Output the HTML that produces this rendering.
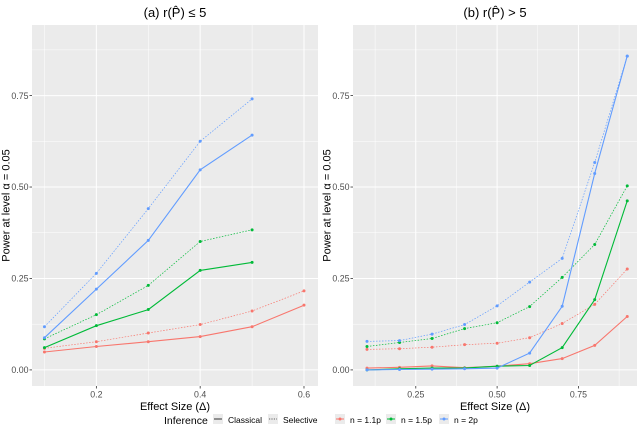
<!DOCTYPE html>
<html><head><meta charset="utf-8"><style>
body{margin:0;background:#fff;font-family:"Liberation Sans",sans-serif}
svg text{font-family:"Liberation Sans","DejaVu Sans",sans-serif}
</style></head><body>
<svg id="c" width="640" height="425"></svg>
<script>
const xsLeft=[0.1,0.2,0.3,0.4,0.5,0.6];
const xsRight=[0.1,0.2,0.3,0.4,0.5,0.6,0.7,0.8,0.9];
const leftBlueSel=[0.118,0.264,0.441,0.625,0.741];
const leftBlueCl=[0.088,0.221,0.354,0.547,0.642];
const leftGreenSel=[0.085,0.151,0.231,0.351,0.383];
const leftGreenCl=[0.061,0.121,0.165,0.272,0.294];
const leftRedSel=[0.059,0.077,0.101,0.124,0.161,0.216];
const leftRedCl=[0.049,0.064,0.077,0.091,0.118,0.177];
const rightBlueSel=[0.078,0.080,0.098,0.124,0.175,0.240,0.305,0.567,0.858];
const rightBlueCl=[0.0,0.001,0.002,0.003,0.005,0.046,0.174,0.537,0.858];
const rightGreenSel=[0.064,0.075,0.086,0.113,0.129,0.173,0.253,0.343,0.503];
const rightGreenCl=[0.0,0.003,0.005,0.005,0.010,0.012,0.061,0.192,0.462];
const rightRedSel=[0.056,0.058,0.062,0.069,0.073,0.088,0.127,0.179,0.276];
const rightRedCl=[0.005,0.007,0.011,0.006,0.010,0.017,0.031,0.067,0.146];
const yTicks=[0,0.25,0.5,0.75];
const yTickLabels=["0.00","0.25","0.50","0.75"];
const leftXTicks=[0.2,0.4,0.6];
const leftXTickLabels=["0.2","0.4","0.6"];
const rightXTicks=[0.25,0.5,0.75];
const rightXTickLabels=["0.25","0.50","0.75"];

const NS="http://www.w3.org/2000/svg";
const svg=document.getElementById('c');
function mk(t,a,p){const e=document.createElementNS(NS,t);for(const k in a)e.setAttribute(k,a[k]);(p||svg).appendChild(e);return e;}
const RED="#F8766D",GREEN="#00BA38",BLUE="#619CFF";

function panel(o){
  const g=mk('g',{});
  
  
  const xs=v=>o.px0+(v-o.x0)/(o.x1-o.x0)*(o.px1-o.px0);
  const ys=v=>o.py0-(v-o.y0)/(o.y1-o.y0)*(o.py0-o.py1);
  const bg=mk('rect',{x:o.px0,y:o.py1,width:o.px1-o.px0,height:o.py0-o.py1,fill:"#EBEBEB"},g);
  
  
  for(let i=0;i<yTicks.length;i++){const m=yTicks[i]+0.125;if(m<o.y1)mk('line',{x1:o.px0,x2:o.px1,y1:ys(m),y2:ys(m),stroke:"#fff","stroke-width":0.5},g);}
  for(let i=0;i<o.xt.length;i++){const m=o.xt[i]-o.minorStep;if(m>o.x0)mk('line',{x1:xs(m),x2:xs(m),y1:o.py0,y2:o.py1,stroke:"#fff","stroke-width":0.5},g);}
  const lm=o.xt[o.xt.length-1]+o.minorStep;if(lm<o.x1)mk('line',{x1:xs(lm),x2:xs(lm),y1:o.py0,y2:o.py1,stroke:"#fff","stroke-width":0.5},g);
  yTicks.forEach((v,i)=>{
    mk('line',{x1:o.px0,x2:o.px1,y1:ys(v),y2:ys(v),stroke:"#fff","stroke-width":1},g);
    mk('line',{x1:o.px0-2.5,x2:o.px0,y1:ys(v),y2:ys(v),stroke:"#333","stroke-width":0.8},g);
    const t=mk('text',{x:o.px0-3.5,y:ys(v)+3.2,"text-anchor":"end","font-size":8.8,fill:"#4d4d4d"},g);t.textContent=yTickLabels[i];
    
    
  });
  o.xt.forEach((v,i)=>{
    mk('line',{x1:xs(v),x2:xs(v),y1:o.py0,y2:o.py1,stroke:"#fff","stroke-width":1},g);
    mk('line',{x1:xs(v),x2:xs(v),y1:o.py0,y2:o.py0+2.5,stroke:"#333","stroke-width":0.8},g);
    const t=mk('text',{x:xs(v),y:o.py0+11.5,"text-anchor":"middle","font-size":8.8,fill:"#4d4d4d"},g);t.textContent=o.xl[i];
    
    
  });
  o.series.forEach(s=>{
    const pts=s.v.map((v,i)=>xs(o.xv[i]).toFixed(1)+","+ys(v).toFixed(1)).join(" ");
    const l=mk('polyline',{points:pts,fill:"none",stroke:s.c,"stroke-width":s.dash?0.7:1.1,"stroke-dasharray":s.dash?"1.5,1.5":"none"},g);
    
    
    s.v.forEach((v,i)=>{const p=mk('circle',{cx:xs(o.xv[i]),cy:ys(v),r:1.5,fill:s.c},g);
      
      });
  });
  const ti=mk('text',{x:(o.px0+o.px1)/2,y:17,"text-anchor":"middle","font-size":13,fill:"#000"},g);ti.textContent=o.title;
  
  
  const xt=mk('text',{x:(o.px0+o.px1)/2,y:410,"text-anchor":"middle","font-size":11,fill:"#000"},g);xt.textContent="Effect Size (Δ)";
  
  
  const yt=mk('text',{x:0,y:0,"text-anchor":"middle","font-size":11,fill:"#000",transform:`translate(${o.px0-22.5},${(o.py0+o.py1)/2}) rotate(-90)`},g);yt.textContent="Power at level α = 0.05";
  
  
}
panel({name:'panel-a',px0:32,px1:318,py0:386,py1:25,x0:0.076,x1:0.627,y0:-0.044,y1:0.943,xt:leftXTicks,xl:leftXTickLabels,minorStep:0.1,xv:xsLeft,title:"(a) r(P̂) ≤ 5",
 series:[{v:leftRedCl,c:RED,n:'line-red-classical'},{v:leftRedSel,c:RED,dash:1,n:'line-red-selective'},{v:leftGreenCl,c:GREEN,n:'line-green-classical'},{v:leftGreenSel,c:GREEN,dash:1,n:'line-green-selective'},{v:leftBlueCl,c:BLUE,n:'line-blue-classical'},{v:leftBlueSel,c:BLUE,dash:1,n:'line-blue-selective'}]});
panel({name:'panel-b',px0:353,px1:637,py0:386,py1:25,x0:0.057,x1:0.93,y0:-0.044,y1:0.943,xt:rightXTicks,xl:rightXTickLabels,minorStep:0.125,xv:xsRight,title:"(b) r(P̂) > 5",
 series:[{v:rightRedCl,c:RED,n:'line-red-classical'},{v:rightRedSel,c:RED,dash:1,n:'line-red-selective'},{v:rightGreenCl,c:GREEN,n:'line-green-classical'},{v:rightGreenSel,c:GREEN,dash:1,n:'line-green-selective'},{v:rightBlueCl,c:BLUE,n:'line-blue-classical'},{v:rightBlueSel,c:BLUE,dash:1,n:'line-blue-selective'}]});
const lg=mk('g',{});


const lt=mk('text',{x:164,y:424,"font-size":10.5,fill:"#000"},lg);lt.textContent="Inference";
const items=[[213,"Classical",'#333',0],[268,"Selective",'#333',1],[335,"n = 1.1p",RED,2],[386,"n = 1.5p",GREEN,2],[439,"n = 2p",BLUE,2]];
items.forEach(it=>{
  const e=mk('g',{},lg);
  
  
  mk('rect',{x:it[0],y:414,width:10,height:10,fill:"#EBEBEB"},e);
  mk('line',{x1:it[0]+1,x2:it[0]+9,y1:419,y2:419,stroke:it[2],"stroke-width":it[3]==1?0.8:1,"stroke-dasharray":it[3]==1?"1.2,1.2":"none"},e);
  if(it[3]==2)mk('circle',{cx:it[0]+5,cy:419,r:1.5,fill:it[2]},e);
  const t=mk('text',{x:it[0]+15,y:423,"font-size":8.5,fill:"#000"},e);t.textContent=it[1];
});
</script>
</body></html>
